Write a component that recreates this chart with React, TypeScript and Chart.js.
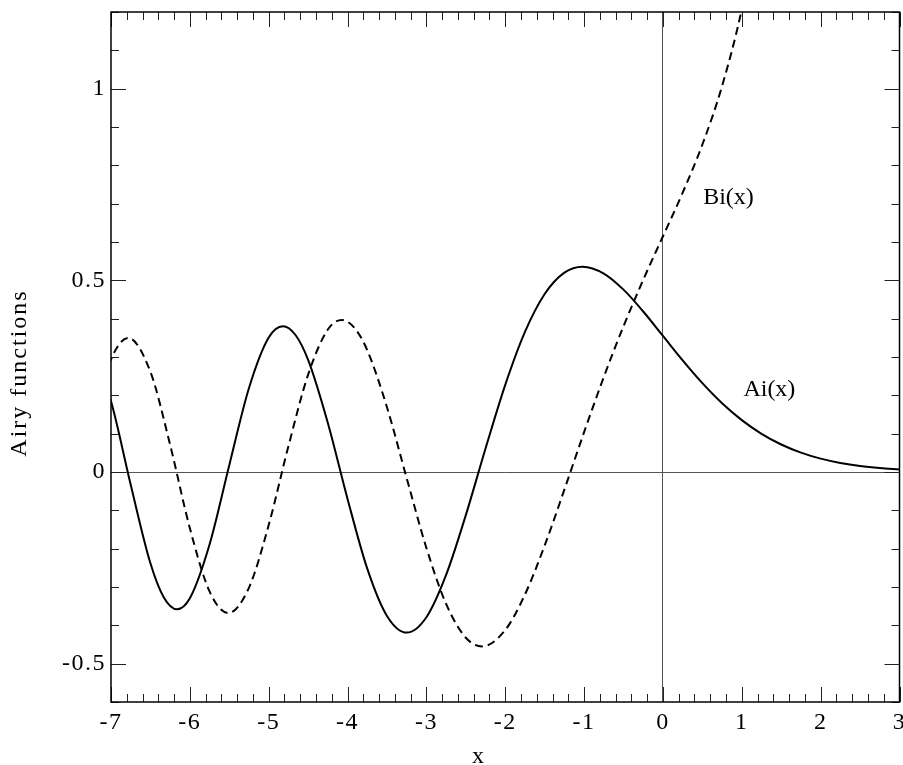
import React, { useEffect, useRef } from 'react';
import { Chart, registerables } from 'chart.js';

Chart.register(...registerables);

// ---- data (turning points included as samples) ----
const aiX = [-7.25, -7, -6.75, -6.5, -6.3317, -6.1633, -6, -5.75, -5.5, -5.25, -5, -4.8201, -4.66, -4.5, -4.25, -4, -3.75, -3.5, -3.2482, -3, -2.75, -2.5, -2.25, -2, -1.75, -1.5, -1.25, -1.0188, -0.75, -0.5, -0.25, 0, 0.25, 0.5, 0.75, 1, 1.25, 1.5, 1.75, 2, 2.25, 2.5, 2.75, 3];
const aiY = [0.3238, 0.1843, -0.0334, -0.2381, -0.3265, -0.3579, -0.3291, -0.1889, 0.0178, 0.2191, 0.3508, 0.3804, 0.3574, 0.2924, 0.1279, -0.0703, -0.2521, -0.3755, -0.419, -0.3788, -0.2685, -0.1125, 0.0614, 0.2274, 0.3655, 0.4643, 0.52, 0.5357, 0.5178, 0.4757, 0.4187, 0.355, 0.2912, 0.2317, 0.1793, 0.1353, 0.0996, 0.0717, 0.0506, 0.0349, 0.0237, 0.0157, 0.0103, 0.0066];

const biX = [-7.25, -7, -6.7812, -6.5, -6.25, -6, -5.75, -5.5123, -5.25, -5, -4.75, -4.5, -4.25, -4.0731, -3.9115, -3.75, -3.5, -3.25, -3, -2.75, -2.5, -2.2944, -2, -1.75, -1.5, -1.25, -1, -0.75, -0.5, -0.25, 0, 0.25, 0.5, 0.75, 1, 1.25];
const biY = [0.1157, 0.2938, 0.3495, 0.2611, 0.0708, -0.1466, -0.3116, -0.368, -0.3015, -0.1384, 0.0673, 0.2541, 0.3716, 0.3965, 0.3759, 0.3176, 0.1689, -0.016, -0.1981, -0.3441, -0.4324, -0.4549, -0.4123, -0.3195, -0.1918, -0.0459, 0.104, 0.2478, 0.3804, 0.5014, 0.6149, 0.7287, 0.8543, 1.0069, 1.2074, 1.4844];

const X_MIN = -7;
const X_MAX = 3;
const X_MAJOR_STEP = 1;
const X_MINOR_STEP = 0.2;
const Y_MIN = -0.6;
const Y_MAX = 1.2;
const Y_MAJOR_STEP = 0.5;
const Y_MINOR_STEP = 0.1;

const X_TITLE = 'x';
const Y_TITLE = 'Airy functions';
const curveLabels = [
  { text: 'Bi(x)', x: 0.51, y: 0.70 },
  { text: 'Ai(x)', x: 1.02, y: 0.197 },
];

// ---- style ----
const FONT = "'Liberation Serif', 'Times New Roman', Times, serif";
const AXIS_FONT_SIZE = 24;
const TICK_LETTER_SPACING = '1.5px';
const TITLE_LETTER_SPACING = '2px';
const LABEL_FONT_SIZE = 24;
const MAJOR_LEN = 15;
const MINOR_LEN = 8;

const fmt = (v: number) => String(Number(v.toFixed(3)));

const framePlugin = {
  id: 'airyFrame',
  beforeDraw(chart: any) {
    (chart.ctx as any).letterSpacing = TICK_LETTER_SPACING;
  },
  afterDraw(chart: any) {
    const { ctx, chartArea: a } = chart;
    const xs = chart.scales.x;
    const ys = chart.scales.y;
    ctx.save();
    ctx.strokeStyle = '#222';
    ctx.lineWidth = 1;
    ctx.beginPath();
    const nx = Math.round((X_MAX - X_MIN) / X_MINOR_STEP);
    for (let i = 0; i <= nx; i++) {
      const v = X_MIN + i * X_MINOR_STEP;
      const r = v / X_MAJOR_STEP;
      const major = Math.abs(r - Math.round(r)) < 1e-6;
      const len = major ? MAJOR_LEN : MINOR_LEN;
      const px = Math.round(xs.getPixelForValue(v)) + 0.5;
      ctx.moveTo(px, a.bottom);
      ctx.lineTo(px, a.bottom - len);
      ctx.moveTo(px, a.top);
      ctx.lineTo(px, a.top + len);
    }
    const ny = Math.round((Y_MAX - Y_MIN) / Y_MINOR_STEP);
    for (let i = 0; i <= ny; i++) {
      const v = Y_MIN + i * Y_MINOR_STEP;
      const r = v / Y_MAJOR_STEP;
      const major = Math.abs(r - Math.round(r)) < 1e-6;
      const len = major ? MAJOR_LEN : MINOR_LEN;
      const py = Math.round(ys.getPixelForValue(v)) + 0.5;
      ctx.moveTo(a.left, py);
      ctx.lineTo(a.left + len, py);
      ctx.moveTo(a.right, py);
      ctx.lineTo(a.right - len, py);
    }
    ctx.stroke();

    // frame
    ctx.strokeStyle = '#000';
    ctx.lineWidth = 1.5;
    ctx.strokeRect(a.left, a.top, a.right - a.left, a.bottom - a.top);

    // axis titles
    ctx.fillStyle = '#000';
    ctx.font = `${AXIS_FONT_SIZE}px ${FONT}`;
    (ctx as any).letterSpacing = TITLE_LETTER_SPACING;
    ctx.textAlign = 'center';
    ctx.textBaseline = 'alphabetic';
    ctx.fillText(X_TITLE, 479, 763);
    ctx.save();
    ctx.translate(26, 373);
    ctx.rotate(-Math.PI / 2);
    ctx.fillText(Y_TITLE, 0, 0);
    ctx.restore();

    // curve labels
    (ctx as any).letterSpacing = '0px';
    ctx.font = `${LABEL_FONT_SIZE}px ${FONT}`;
    ctx.textAlign = 'left';
    for (const l of curveLabels) {
      ctx.fillText(l.text, xs.getPixelForValue(l.x), ys.getPixelForValue(l.y));
    }
    ctx.restore();
  },
};

export default function App() {
  const ref = useRef<HTMLCanvasElement | null>(null);
  useEffect(() => {
    if (!ref.current) return;
    const zeroGrid = (c: any) => (c.tick && Math.abs(c.tick.value) < 1e-9 ? '#555' : 'rgba(0,0,0,0)');
    const chart = new Chart(ref.current, {
      type: 'line',
      data: {
        datasets: [
          {
            label: 'Ai(x)',
            data: aiX.map((x, i) => ({ x, y: aiY[i] })),
            borderColor: '#000',
            borderWidth: 2,
            pointRadius: 0,
            fill: false,
            cubicInterpolationMode: 'monotone',
          },
          {
            label: 'Bi(x)',
            data: biX.map((x, i) => ({ x, y: biY[i] })),
            borderColor: '#000',
            borderWidth: 2,
            borderDash: [8, 5],
            pointRadius: 0,
            fill: false,
            cubicInterpolationMode: 'monotone',
          },
        ],
      },
      options: {
        responsive: false,
        animation: false,
        events: [],
        layout: { padding: { left: 0, top: 12, right: 3.5, bottom: 0 } },
        plugins: { legend: { display: false }, tooltip: { enabled: false } },
        scales: {
          x: {
            type: 'linear',
            min: X_MIN,
            max: X_MAX,
            ticks: {
              stepSize: X_MAJOR_STEP,
              color: '#000',
              font: { family: FONT, size: AXIS_FONT_SIZE },
              padding: 6,
              maxRotation: 0,
              autoSkip: false,
              callback: (v: any) => fmt(Number(v)),
            },
            grid: { drawTicks: false, color: zeroGrid, lineWidth: 1 },
            border: { display: false },
            afterFit: (s: any) => {
              s.height = 63;
              s.paddingLeft = 0;
              s.paddingRight = 0;
            },
          },
          y: {
            type: 'linear',
            min: Y_MIN,
            max: Y_MAX,
            ticks: {
              stepSize: Y_MAJOR_STEP,
              includeBounds: false,
              color: '#000',
              font: { family: FONT, size: AXIS_FONT_SIZE },
              padding: 5,
              autoSkip: false,
              callback: (v: any) => fmt(Number(v)),
            },
            grid: { drawTicks: false, color: zeroGrid, lineWidth: 1 },
            border: { display: false },
            afterFit: (s: any) => {
              s.width = 111;
              s.paddingTop = 0;
              s.paddingBottom = 0;
            },
          },
        },
      } as any,
      plugins: [framePlugin],
    });
    return () => chart.destroy();
  }, []);
  return (
    <div style={{ position: 'fixed', left: 0, top: 0, width: 903, height: 765, background: '#fff' }}>
      <canvas ref={ref} width={903} height={765} />
    </div>
  );
}
